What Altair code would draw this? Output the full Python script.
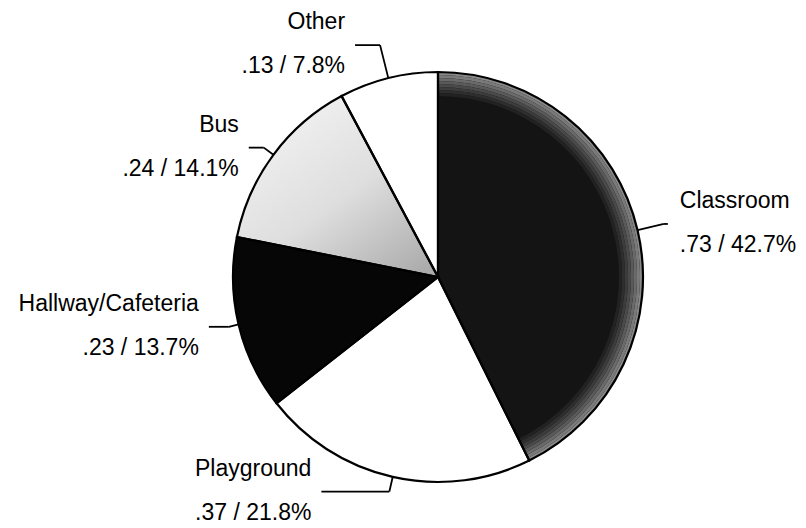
import math
import altair as alt
import pandas as pd

# ---- data ----
categories = ["Classroom", "Playground", "Hallway/Cafeteria", "Bus", "Other"]
values = [0.73, 0.37, 0.23, 0.24, 0.13]
percents = [42.7, 21.8, 13.7, 14.1, 7.8]

# ---- styles / layout ----
fills = ["#141414", "#ffffff", "#060606", "#d2d2d2", "#ffffff"]
elbow_r = [232, 220, 215, 217, 239]   # radius of the leader-line elbow
horiz = [4, -68, -20, -15, -25]        # horizontal leader segment length
CX, CY, R = 430, 269, 205
FONT = "Liberation Sans"
FS = 23

total = sum(percents)

df = pd.DataFrame({
    "cat": categories,
    "idx": list(range(len(categories))),
    "pct": percents,
    "val": values,
    "label": [f".{round(v * 100):02d} / {p}%" for v, p in zip(values, percents)],
    "er": elbow_r,
    "hz": horiz,
})

base = alt.Chart(df).transform_window(
    cum="sum(pct)", sort=[alt.SortField("idx")], frame=[None, 0]
).transform_calculate(
    start="datum.cum - datum.pct",
    end="datum.cum",
    mid=f"(datum.cum - datum.pct / 2) / {total} * 2 * PI",
).transform_calculate(
    ex=f"{CX} + {R} * sin(datum.mid)",
    ey=f"{CY} - {R} * cos(datum.mid)",
    bx=f"{CX} + datum.er * sin(datum.mid)",
    by=f"{CY} - datum.er * cos(datum.mid)",
).transform_calculate(
    nx="datum.bx + datum.hz",
    side="datum.hz >= 0 ? 'L' : 'R'",
)

theta = alt.Theta("start:Q", stack=False, scale=alt.Scale(domain=[0, total], range=[0, 2 * math.pi]))
theta2 = alt.Theta2("end:Q")
pos = dict(x=alt.value(CX), y=alt.value(CY))

slices = base.mark_arc(radius=R, strokeWidth=0).encode(
    theta=theta, theta2=theta2,
    fill=alt.Fill("cat:N", scale=alt.Scale(domain=categories, range=fills), legend=None),
    **pos,
)

bus_shade = base.transform_filter(alt.datum.cat == "Bus").mark_arc(
    radius=R,
    fill=alt.Gradient(
        gradient="linear",
        stops=[alt.GradientStop(color="#f6f6f6", offset=0),
               alt.GradientStop(color="#dedede", offset=0.55),
               alt.GradientStop(color="#ababab", offset=1)],
        x1=0.1, y1=0, x2=0.9, y2=1,
    ),
).encode(theta=theta, theta2=theta2, **pos)

# soft grey rim on the Classroom slice
rim_greys = ["#8a8a8a", "#7a7a7a", "#6a6a6a", "#5a5a5a", "#4a4a4a", "#3c3c3c", "#2e2e2e", "#222222"]
rings = []
for i, c in enumerate(rim_greys):
    r1 = R - 3 * i
    rings.append(
        base.transform_filter(alt.datum.cat == "Classroom").mark_arc(
            radius=r1, radius2=r1 - 3, fill=c
        ).encode(theta=theta, theta2=theta2, **pos)
    )

outline = base.mark_arc(radius=R, fillOpacity=0, stroke="black", strokeWidth=2.2).encode(
    theta=theta, theta2=theta2, **pos
)

lead1 = base.mark_rule(color="black", strokeWidth=1.8).encode(
    x=alt.X("ex:Q", scale=None, axis=None), y=alt.Y("ey:Q", scale=None, axis=None),
    x2="bx:Q", y2="by:Q",
)
lead2 = base.mark_rule(color="black", strokeWidth=1.8).encode(
    x=alt.X("bx:Q", scale=None, axis=None), y=alt.Y("by:Q", scale=None, axis=None),
    x2="nx:Q", y2="by:Q",
)

def labels(side, align, dx):
    b = base.transform_filter(alt.datum.side == side)
    enc = dict(x=alt.X("nx:Q", scale=None, axis=None), y=alt.Y("by:Q", scale=None, axis=None))
    name = b.mark_text(align=align, baseline="middle", dx=dx, dy=-23, font=FONT, fontSize=FS,
                       color="black").encode(text="cat:N", **enc)
    val = b.mark_text(align=align, baseline="middle", dx=dx, dy=21, font=FONT, fontSize=FS,
                      color="black").encode(text="label:N", **enc)
    return [name, val]

chart = alt.layer(
    slices, bus_shade, *rings, outline, lead1, lead2,
    *labels("L", "left", 12), *labels("R", "right", -10),
).properties(
    width=790, height=520, padding=0, background="white",
    autosize=alt.AutoSizeParams(type="none"),
).configure_view(stroke=None)

chart.save("out.html", embed_options={"renderer": "svg", "actions": False})
